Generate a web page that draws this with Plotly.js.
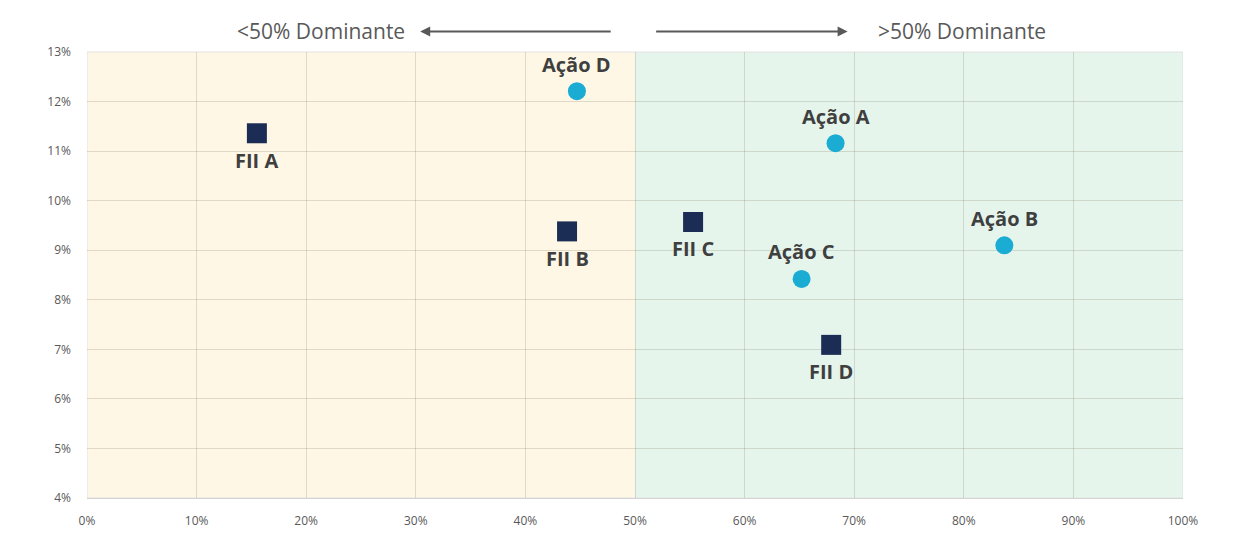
<!DOCTYPE html>
<html>
<head>
<meta charset="utf-8">
<script src="https://cdn.plot.ly/plotly-3.0.1.min.js"></script>
<style>
  html, body { margin: 0; padding: 0; background: #fff; }
  #chart { width: 1244px; height: 560px; }
</style>
</head>
<body>
<div id="chart"></div>
<script>
// FIIs (squares)
var fiiNames = ['FII A', 'FII B', 'FII C', 'FII D'];
var fiiX = [15.5, 43.8, 55.3, 67.9];
var fiiY = [11.36, 9.38, 9.57, 7.09];

// Ações (circles)
var acaoNames = ['Ação A', 'Ação B', 'Ação C', 'Ação D'];
var acaoX = [68.3, 83.7, 65.2, 44.7];
var acaoY = [11.16, 9.10, 8.42, 12.21];

var xTicks = [0, 10, 20, 30, 40, 50, 60, 70, 80, 90, 100];
var yTicks = [4, 5, 6, 7, 8, 9, 10, 11, 12, 13];

var labelFont = { family: 'Open Sans, sans-serif', size: 20, color: '#3f3f3f', weight: 'bold' };
var headFont = { family: 'Open Sans, sans-serif', size: 21, color: '#595959' };

var fii = {
    x: fiiX,
    y: fiiY,
    mode: 'markers',
    type: 'scatter',
    marker: { symbol: 'square', size: 20, color: '#1b2d55' },
    hoverinfo: 'skip'
};

var acao = {
    x: acaoX,
    y: acaoY,
    mode: 'markers',
    type: 'scatter',
    marker: { symbol: 'circle', size: 18, color: '#1aacd2' },
    hoverinfo: 'skip'
};

// point labels: FII below the marker, Ação above
var labels = [];
fiiNames.forEach(function (n, i) {
    labels.push({ x: fiiX[i], y: fiiY[i], text: n, showarrow: false,
                  yshift: -27, font: labelFont });
});
acaoNames.forEach(function (n, i) {
    labels.push({ x: acaoX[i], y: acaoY[i], text: n, showarrow: false,
                  yshift: 27, font: labelFont });
});

var tickFont = { family: 'Open Sans, sans-serif', size: 12, color: '#595959' };
var gridCol = 'rgba(110,100,70,0.2)';

var layout = {
    width: 1244,
    height: 560,
    margin: { l: 87, r: 61, t: 52, b: 62 },
    paper_bgcolor: '#ffffff',
    plot_bgcolor: 'rgba(0,0,0,0)',
    showlegend: false,
    xaxis: {
        range: [0, 100],
        tickvals: xTicks,
        ticktext: xTicks.map(function (v) { return v + '%'; }),
        tickfont: tickFont,
        gridcolor: gridCol,
        zeroline: false,
        showline: true,
        linecolor: '#d4d4d4',
        ticks: '',
        ticklabelstandoff: 12,
        fixedrange: true
    },
    yaxis: {
        range: [4, 13],
        tickvals: yTicks,
        ticktext: yTicks.map(function (v) { return v + '%'; }),
        tickfont: tickFont,
        gridcolor: gridCol,
        zeroline: false,
        showline: false,
        ticks: '',
        ticklabelstandoff: 15,
        fixedrange: true
    },
    shapes: [
        { type: 'rect', xref: 'x', yref: 'paper', x0: 0, x1: 50, y0: 0, y1: 1,
          fillcolor: '#fef7e6', line: { width: 0 }, layer: 'below' },
        { type: 'rect', xref: 'x', yref: 'paper', x0: 50, x1: 100, y0: 0, y1: 1,
          fillcolor: '#e5f5ec', line: { width: 0 }, layer: 'below' },
        { type: 'rect', xref: 'x', yref: 'paper', x0: 0, x1: 100, y0: 0, y1: 1,
          fillcolor: 'rgba(0,0,0,0)', line: { width: 1, color: '#e2e2e2' }, layer: 'below' }
    ],
    annotations: labels.concat([
        { xref: 'paper', yref: 'paper', x: 0.2135, y: 1.0464, xanchor: 'center', yanchor: 'middle',
          text: '&lt;50% Dominante', showarrow: false, font: headFont },
        { xref: 'paper', yref: 'paper', x: 0.7985, y: 1.0464, xanchor: 'center', yanchor: 'middle',
          text: '&gt;50% Dominante', showarrow: false, font: headFont },
        { xref: 'paper', yref: 'paper', x: 0.304, y: 1.046, ax: 192, ay: 0, text: '',
          showarrow: true, arrowhead: 2, arrowsize: 1, arrowwidth: 2, arrowcolor: '#595959' },
        { xref: 'paper', yref: 'paper', x: 0.694, y: 1.046, ax: -193, ay: 0, text: '',
          showarrow: true, arrowhead: 2, arrowsize: 1, arrowwidth: 2, arrowcolor: '#595959' }
    ])
};

Plotly.newPlot('chart', [fii, acao], layout, { displayModeBar: false, staticPlot: true });
</script>
</body>
</html>
